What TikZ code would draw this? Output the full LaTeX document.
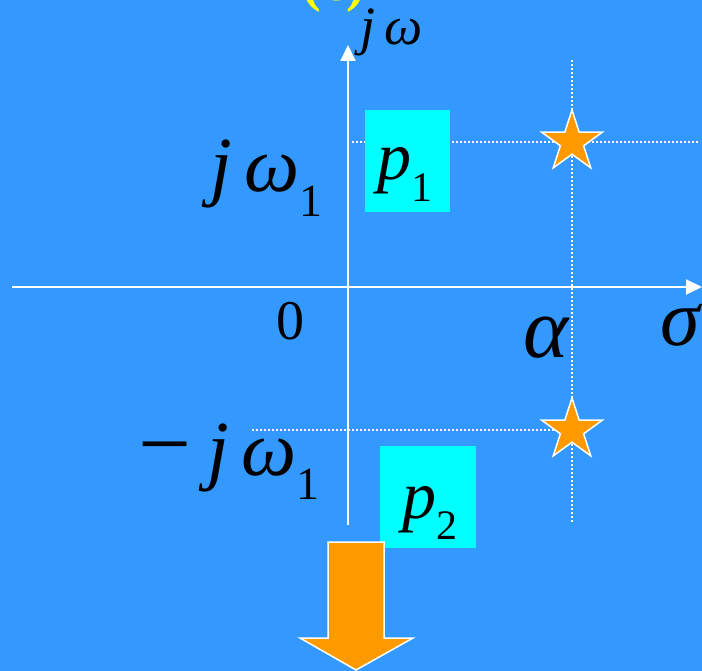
\documentclass[tikz,border=0pt]{standalone}
\usepackage{fontspec}
\setmainfont{Liberation Serif}
\usetikzlibrary{positioning,arrows.meta,shapes.geometric}
\definecolor{skyblue}{HTML}{3399FF}
\definecolor{poleorange}{HTML}{FF9900}
\definecolor{boxcyan}{HTML}{00FFFF}
\definecolor{tagyellow}{HTML}{FFFF00}
% lowered upright index: size, text
\newcommand{\lowidx}[2]{\raisebox{-0.32em}{\fontsize{#1}{#1}\selectfont\upshape #2}}

\begin{document}
\begin{tikzpicture}[x=1pt,y=-1pt,
    axis/.style={white, line width=2pt, -{Triangle[length=16pt,width=15pt]}},
    guide/.style={white, line width=1.5pt, dash pattern=on 2pt off 2pt},
    pole/.style={star, star points=5, star point ratio=2.618, minimum size=64pt,
        inner sep=0pt, fill=poleorange, draw=white, line width=1.5pt},
    polebox/.style={fill=boxcyan, inner sep=0pt, minimum height=102pt},
    bigtxt/.style={inner sep=0pt, font=\fontsize{78}{78}\selectfont\itshape},
    midtxt/.style={inner sep=0pt, font=\fontsize{56}{56}\selectfont\itshape}]

    % background
    \fill[skyblue] (0,0) rectangle (702,671);
    \useasboundingbox (0,0) rectangle (702,671);

    % caption cut at the top
    \node[inner sep=0pt, anchor=base, text=tagyellow, font=\fontsize{56}{56}\selectfont\bfseries] (tag) at (334,1) {(c)};

    % guide lines through the poles
    \coordinate (vtop) at (572,60);
    \coordinate (vbot) at (572,522);
    \coordinate (hup) at (352,142);
    \coordinate (hupend) at (700,142);
    \coordinate (hlow) at (252,430);
    \coordinate (hlowend) at (588,430);
    \draw[guide] (vtop) -- (vbot);
    \draw[guide] (hup) -- (hupend);
    \draw[guide] (hlow) -- (hlowend);

    % axes
    \coordinate (sstart) at (12,287);
    \coordinate (send) at (702,287);
    \coordinate (wstart) at (348,525);
    \coordinate (wend) at (348,45);
    \draw[axis] (sstart) -- (send);
    \draw[axis] (wstart) -- (wend);

    % axis labels
    \node[midtxt, anchor=base west, font=\fontsize{54}{54}\selectfont\itshape] (jw) at (360,45) {j\,ω};
    \node[midtxt, anchor=base west, font=\fontsize{80}{80}\selectfont\itshape] (sigma) at (660,345) {σ};
    \node[midtxt, anchor=base] (zero) at (290,339) {\upshape 0};
    \node[bigtxt, anchor=base, font=\fontsize{86}{86}\selectfont\itshape] (alpha) at (546,357) {α};
    \node[bigtxt, anchor=base east] (jw1) at (323,192) {j\,ω\lowidx{46}{1}};
    \node[bigtxt, anchor=base east] (mjw1) at (320,475)
        {\upshape\fontsize{94}{94}\selectfont −\hspace{16pt}\fontsize{78}{78}\selectfont\itshape j\,ω\lowidx{46}{1}};

    % poles
    \node[polebox, minimum width=85pt] (p1box) at (407.5,161) {};
    \node[polebox, minimum width=96pt] (p2box) at (428,497) {};
    \node[bigtxt, anchor=base, font=\fontsize{68}{68}\selectfont\itshape] (p1) at (405,180) {p\lowidx{42}{1}};
    \node[bigtxt, anchor=base, font=\fontsize{68}{68}\selectfont\itshape] (p2) at (430,518) {p\lowidx{42}{2}};
    \node[pole] (star1) at (572,142) {};
    \node[pole] (star2) at (572,430) {};

    % big arrow pointing down
    \filldraw[fill=poleorange, draw=white, line width=1.5pt]
        (328,542) -- (384,542) -- (384,638) -- (413,638) -- (356,670)
        -- (300,638) -- (328,638) -- cycle;
\end{tikzpicture}
\end{document}
